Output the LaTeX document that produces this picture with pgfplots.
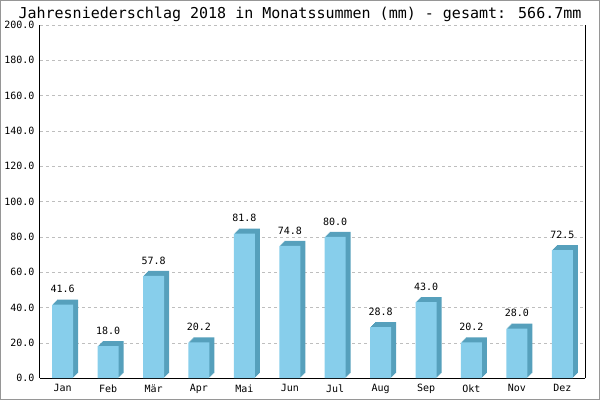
\documentclass[border=0pt]{standalone}
\usepackage{fontspec}
\setmainfont{DejaVu Sans Mono}
\usepackage{pgfplots}
\usepackage{pgfplotstable}
\pgfplotsset{compat=1.18}
\definecolor{barfront}{RGB}{135,206,235}
\definecolor{barside}{RGB}{86,160,188}
\definecolor{gridgray}{RGB}{190,190,190}
\definecolor{framegray}{RGB}{150,150,150}

% Monatssummen 2018 (mm)
\pgfplotstableread{
x y
0 41.6
1 18.0
2 57.8
3 20.2
4 81.8
5 74.8
6 80.0
7 28.8
8 43.0
9 20.2
10 28.0
11 72.5
}\niederschlag

\begin{document}
\begin{tikzpicture}
\begin{axis}[
    at={(0pt,0pt)}, anchor=south west,
    scale only axis,
    width=545pt, height=353pt,
    xmin=-0.5, xmax=11.5,
    ymin=0, ymax=200,
    ytick={0,20,...,200},
    xtick=data,
    xticklabels={Jan,Feb,Mär,Apr,Mai,Jun,Jul,Aug,Sep,Okt,Nov,Dez},
    axis x line=bottom,
    axis y line=box,
    yticklabel pos=left,
    x axis line style={-, black, line width=1pt},
    y axis line style={-, black, line width=1pt},
    major tick length=0pt,
    tick style={draw=none},
    ymajorgrids,
    major grid style={gridgray, dash pattern=on 3pt off 3pt},
    /pgf/number format/assume math mode=true,
    yticklabel={\pgfmathprintnumber[fixed,zerofill,precision=1]{\tick}},
    ticklabel style={font=\fontsize{10pt}{12pt}\selectfont},
    yticklabel style={xshift=-2pt},
    xticklabel style={yshift=-3pt},
]
\pgfplotsinvokeforeach{5,4,3,2,1}{
  \addplot[ybar, bar width=21pt, bar shift=#1pt, yshift=#1pt,
    fill=barside, draw=none] table {\niederschlag};
}
\addplot[ybar, bar width=21pt, bar shift=0pt, fill=barfront, draw=none,
    point meta=y,
    nodes near coords={\pgfmathprintnumber[fixed,zerofill,precision=1,assume math mode=true]{\pgfplotspointmeta}},
    every node near coord/.append style={font=\fontsize{10pt}{12pt}\selectfont, black, yshift=8pt}]
    table {\niederschlag};
\end{axis}
\node[font=\fontsize{15pt}{18pt}\selectfont] at (260pt,364pt) {Jahresniederschlag 2018 in Monatssummen (mm) - gesamt: 566.7mm};
\draw[framegray, line width=1pt] (-39.5pt,-21.5pt) rectangle (559.5pt,377.5pt);
\end{tikzpicture}
\end{document}
